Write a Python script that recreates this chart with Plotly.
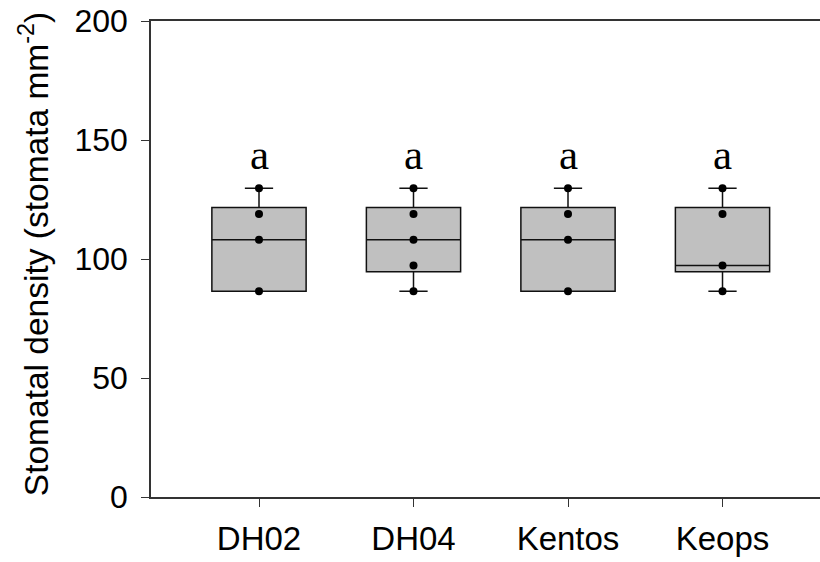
import plotly.graph_objects as go

# ---- data ----
cultivars = ["DH02", "DH04", "Kentos", "Keops"]
points_dh02 = [86.5, 108.1, 118.9, 129.7]
points_dh04 = [86.5, 97.3, 108.1, 118.9, 129.7]
points_kentos = [86.5, 108.1, 118.9, 129.7]
points_keops = [86.5, 97.3, 118.9, 129.7]
q1_vals = [86.5, 94.6, 86.5, 94.6]
median_vals = [108.1, 108.1, 108.1, 97.3]
q3_vals = [121.6, 121.6, 121.6, 121.6]
lower_vals = [86.5, 86.5, 86.5, 86.5]
upper_vals = [129.7, 129.7, 129.7, 129.7]
letters = ["a", "a", "a", "a"]
y_ticks = [0, 50, 100, 150, 200]
y_title = "Stomatal density (stomata mm<sup>-2</sup>)"

points = [points_dh02, points_dh04, points_kentos, points_keops]

fig = go.Figure()
for i, c in enumerate(cultivars):
    fig.add_trace(go.Box(
        x=[c], q1=[q1_vals[i]], median=[median_vals[i]], q3=[q3_vals[i]],
        lowerfence=[lower_vals[i]], upperfence=[upper_vals[i]],
        boxpoints=False, fillcolor="#c0c0c0",
        line=dict(color="#111111", width=1.5),
        width=0.61, whiskerwidth=0.3, showlegend=False, hoverinfo="skip",
    ))
    fig.add_trace(go.Scatter(
        x=[c] * len(points[i]), y=points[i], mode="markers",
        marker=dict(color="black", size=8), showlegend=False,
    ))

for i, c in enumerate(cultivars):
    fig.add_annotation(
        x=c, y=upper_vals[i] + 14, text=letters[i], showarrow=False,
        font=dict(family="Liberation Serif", size=43, color="black"),
        yanchor="middle",
    )

# y-axis title as rotated annotation (placed left of tick labels)
fig.add_annotation(
    xref="paper", yref="paper", x=-0.175, y=0.51,
    text=y_title, textangle=-90, showarrow=False,
    xanchor="center", yanchor="middle",
    font=dict(size=33.5, family="Liberation Sans", color="black"),
)

fig.update_layout(
    width=820, height=562,
    margin=dict(l=151, r=0, t=21, b=65),
    plot_bgcolor="white", paper_bgcolor="white",
    boxmode="overlay",
    font=dict(family="Liberation Sans", color="black"),
    xaxis=dict(
        type="category", categoryorder="array", categoryarray=cultivars,
        range=[-0.699, 3.631],
        showline=True, linecolor="#333333", linewidth=1.5, mirror=True,
        ticks="outside", ticklen=8, tickcolor="#333333", tickwidth=1.3,
        ticklabelstandoff=4,
        tickfont=dict(size=33, family="Liberation Sans", color="black"),
        showgrid=False, zeroline=False,
    ),
    yaxis=dict(
        range=[0, 200], tickvals=y_ticks,
        showline=True, linecolor="#333333", linewidth=1.5,
        ticks="outside", ticklen=8, tickcolor="#333333", tickwidth=1.3,
        ticklabelstandoff=7,
        tickfont=dict(size=32, family="Liberation Sans", color="black"),
        showgrid=False, zeroline=False,
    ),
)

fig.write_html("out.html", config={"displayModeBar": False},
               post_script="document.body.style.margin='0';document.body.style.padding='0';")
